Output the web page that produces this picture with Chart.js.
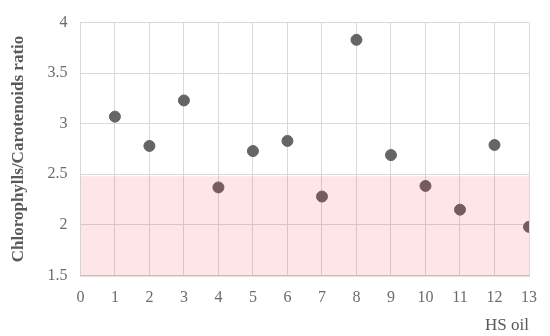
<!DOCTYPE html>
<html>
<head>
  <script src="https://cdn.jsdelivr.net/npm/chart.js"></script>
  <style>
    body { margin: 0; background: #fff; }
    #wrap { width: 550px; height: 336px; }
  </style>
</head>
<body>
  <div id="wrap"><canvas id="scatterChart"></canvas></div>
  <script>
    // HS oil samples and their chlorophylls/carotenoids ratio
    const samples = [1, 2, 3, 4, 5, 6, 7, 8, 9, 10, 11, 12, 13];
    const ratios = [3.07, 2.78, 3.23, 2.37, 2.73, 2.83, 2.28, 3.83, 2.69, 2.385, 2.15, 2.79, 1.98];
    // shaded low-ratio band
    const bandX = [0, 13];
    const bandTop = 2.48;

    const font = "'Liberation Serif', 'DejaVu Serif', serif";

    new Chart(document.getElementById("scatterChart"), {
      type: 'scatter',
      data: {
        datasets: [
          {
            label: 'ratio',
            data: samples.map((s, i) => ({ x: s, y: ratios[i] })),
            backgroundColor: '#666464',
            borderColor: '#666464',
            pointRadius: 5.5,
            pointHoverRadius: 5.5,
            order: 2
          },
          {
            label: 'band',
            type: 'line',
            data: bandX.map(x => ({ x: x, y: bandTop })),
            borderWidth: 0,
            pointRadius: 0,
            fill: 'start',
            backgroundColor: 'rgba(245, 40, 60, 0.12)',
            order: 1
          }
        ]
      },
      options: {
        responsive: true,
        maintainAspectRatio: false,
        animation: false,
        layout: { padding: { top: 6, right: 10, left: 4, bottom: 0 } },
        plugins: {
          legend: { display: false },
          tooltip: { enabled: false }
        },
        scales: {
          x: {
            type: 'linear',
            min: 0,
            max: 13,
            ticks: { stepSize: 1, color: '#6b6b6b', font: { family: font, size: 16 }, padding: 13 },
            grid: { color: '#d9d9d9', drawTicks: false },
            border: { color: '#c4c4c4', width: 1.5 },
            title: {
              display: true,
              text: 'HS oil',
              align: 'end',
              color: '#595959',
              font: { family: font, size: 17 },
              padding: { top: -5, bottom: 0 }
            }
          },
          y: {
            min: 1.5,
            max: 4,
            ticks: {
              stepSize: 0.5,
              color: '#6b6b6b',
              font: { family: font, size: 16 },
              padding: 13,
              callback: v => String(v)
            },
            grid: { color: '#d9d9d9', drawTicks: false },
            border: { display: false },
            title: {
              display: true,
              text: 'Chlorophylls/Carotenoids ratio',
              color: '#595959',
              font: { family: font, size: 17, weight: 'bold' },
              padding: { bottom: 6 }
            }
          }
        }
      }
    });
  </script>
</body>
</html>
